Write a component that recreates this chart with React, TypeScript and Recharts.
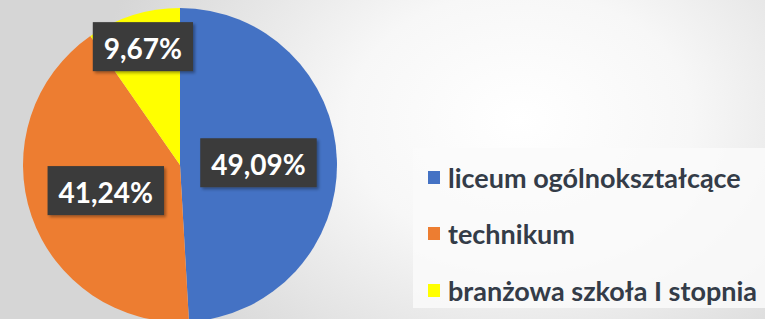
import React from "react";
import { PieChart, Pie, Cell, Legend } from "recharts";

const categories = ["liceum ogólnokształcące", "technikum", "branżowa szkoła I stopnia"];
const shares = [49.09, 41.24, 9.67];
const colors = ["#4472C4", "#ED7D31", "#FFFF00"];

const data = categories.map((name, i) => ({ name, value: shares[i] }));

const RAD = Math.PI / 180;
const LABEL_FONT = "bold 28px Lato";

let ctx: CanvasRenderingContext2D | null = null;
const textWidth = (s: string) => {
  if (!ctx) ctx = document.createElement("canvas").getContext("2d");
  if (!ctx) return s.length * 15;
  ctx.font = LABEL_FONT;
  return ctx.measureText(s).width;
};

const renderLabel = (props: any) => {
  const { cx, cy, midAngle, outerRadius, percent, value } = props;
  // small slices get their label pushed outward, like Excel's best fit
  const r = outerRadius * (percent < 0.15 ? 0.79 : 0.5);
  const x = cx + r * Math.cos(-midAngle * RAD);
  const y = cy + r * Math.sin(-midAngle * RAD);
  const text = value.toFixed(2).replace(".", ",") + "%";
  const w = textWidth(text) + 22;
  const h = 49;
  return (
    <g>
      <rect x={x - w / 2} y={y - h / 2} width={w} height={h} fill="#3a3a3a" filter="url(#lblShadow)" />
      <text
        x={x}
        y={y + 1}
        textAnchor="middle"
        dominantBaseline="central"
        fill="#ffffff"
        style={{ font: LABEL_FONT }}
      >
        {text}
      </text>
    </g>
  );
};

// legend drawn from the same arrays so the order stays as in the source
const LegendBox = () => (
  <div
    style={{
      background: "rgba(250,250,250,0.85)",
      width: 352,
      height: 160,
      padding: "1px 0 0 15px",
      boxSizing: "border-box",
    }}
  >
    {categories.map((name, i) => (
      <div key={name} style={{ display: "flex", alignItems: "center", height: 56.5 }}>
        <span
          style={{
            width: 12,
            height: 13,
            background: colors[i],
            marginRight: 8,
            display: "inline-block",
          }}
        />
        <span style={{ font: "bold 27px Lato", color: "#343c48" }}>{name}</span>
      </div>
    ))}
  </div>
);

export default function App() {
  return (
    <div
      style={{
        position: "absolute",
        left: 0,
        top: 0,
        width: 765,
        height: 319,
        overflow: "hidden",
        background:
          "radial-gradient(ellipse 430px 320px at 520px 120px, #ffffff 0%, #f7f7f7 40%, #d6d6d6 100%)",
      }}
    >
      <PieChart width={765} height={319} margin={{ top: 0, right: 0, bottom: 0, left: 0 }}>
        <defs>
          <filter id="lblShadow" x="-20%" y="-20%" width="150%" height="160%">
            <feDropShadow dx="2" dy="2" stdDeviation="1.5" floodColor="#000" floodOpacity="0.35" />
          </filter>
        </defs>
        <Pie
          data={data}
          dataKey="value"
          nameKey="name"
          cx={180}
          cy={165}
          outerRadius={157}
          startAngle={90}
          endAngle={-270}
          stroke="none"
          label={renderLabel}
          labelLine={false}
          isAnimationActive={false}
        >
          {data.map((d, i) => (
            <Cell key={d.name} fill={colors[i]} />
          ))}
        </Pie>
        <Legend content={<LegendBox />} wrapperStyle={{ left: 413, top: 148, width: 352 }} />
      </PieChart>
    </div>
  );
}
